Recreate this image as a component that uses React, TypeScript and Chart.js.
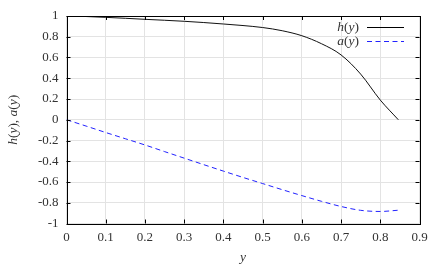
import React, { useEffect, useRef } from "react";
import { Chart, registerables } from "chart.js";

Chart.register(...registerables);

const hX = [0, 0.05, 0.1, 0.15, 0.2, 0.25, 0.3, 0.35, 0.4, 0.45, 0.5, 0.55, 0.6, 0.65, 0.7, 0.75, 0.8, 0.846];
const hY = [1.0, 0.995, 0.987, 0.978, 0.968, 0.959, 0.949, 0.937, 0.923, 0.908, 0.889, 0.858, 0.81, 0.733, 0.625, 0.44, 0.19, 0.0];
const aX = [0, 0.05, 0.1, 0.15, 0.2, 0.25, 0.3, 0.35, 0.4, 0.45, 0.5, 0.55, 0.6, 0.65, 0.7, 0.75, 0.8, 0.846];
const aY = [0, -0.061, -0.123, -0.183, -0.243, -0.307, -0.37, -0.433, -0.495, -0.556, -0.615, -0.674, -0.731, -0.786, -0.836, -0.873, -0.884, -0.872];
const xTicks = [0, 0.1, 0.2, 0.3, 0.4, 0.5, 0.6, 0.7, 0.8, 0.9];
const xTickLabels = ["0", "0.1", "0.2", "0.3", "0.4", "0.5", "0.6", "0.7", "0.8", "0.9"];
const yTicks = [-1, -0.8, -0.6, -0.4, -0.2, 0, 0.2, 0.4, 0.6, 0.8, 1];
const yTickLabels = ["-1", "-0.8", "-0.6", "-0.4", "-0.2", "0", "0.2", "0.4", "0.6", "0.8", "1"];

const SERIF = "'Liberation Serif', 'Times New Roman', serif";

type Seg = { t: string; it: boolean };
const hLabel: Seg[] = [{ t: "h", it: true }, { t: "(", it: false }, { t: "y", it: true }, { t: ")", it: false }];
const aLabel: Seg[] = [{ t: "a", it: true }, { t: "(", it: false }, { t: "y", it: true }, { t: ")", it: false }];
const yTitle: Seg[] = [...hLabel, { t: ", ", it: false }, ...aLabel];
const xTitle: Seg[] = [{ t: "y", it: true }];

function segWidth(ctx: CanvasRenderingContext2D, segs: Seg[], size: number) {
  let w = 0;
  for (const s of segs) {
    ctx.font = `${s.it ? "italic " : ""}${size}px ${SERIF}`;
    w += ctx.measureText(s.t).width;
  }
  return w;
}
function drawSegs(ctx: CanvasRenderingContext2D, segs: Seg[], x: number, y: number, size: number) {
  let cx = x;
  for (const s of segs) {
    ctx.font = `${s.it ? "italic " : ""}${size}px ${SERIF}`;
    ctx.fillText(s.t, cx, y);
    cx += ctx.measureText(s.t).width;
  }
}

const decor = {
  id: "decor",
  afterDatasetsDraw(chart: any) {
    const ctx: CanvasRenderingContext2D = chart.ctx;
    const { left, right, top, bottom } = chart.chartArea;
    const xs = chart.scales.x;
    const ys = chart.scales.y;
    ctx.save();
    ctx.strokeStyle = "#000";
    ctx.lineWidth = 1;
    ctx.setLineDash([]);
    ctx.beginPath();
    const tl = 4;
    for (const v of xTicks) {
      const px = Math.round(xs.getPixelForValue(v)) + 0.5;
      ctx.moveTo(px, bottom);
      ctx.lineTo(px, bottom - tl);
      ctx.moveTo(px, top);
      ctx.lineTo(px, top + tl);
    }
    for (const v of yTicks) {
      const py = Math.round(ys.getPixelForValue(v)) + 0.5;
      ctx.moveTo(left, py);
      ctx.lineTo(left + tl, py);
      ctx.moveTo(right, py);
      ctx.lineTo(right - tl, py);
    }
    ctx.stroke();
    ctx.strokeRect(Math.round(left) + 0.5, Math.round(top) + 0.5, Math.round(right - left), Math.round(bottom - top));

    // legend
    ctx.fillStyle = "#333";
    ctx.textBaseline = "middle";
    const rows = [
      { segs: hLabel, y: top + 11, color: "#000", dash: [] as number[] },
      { segs: aLabel, y: top + 25, color: "#2222ff", dash: [5, 3.5] },
    ];
    for (const r of rows) {
      const w = segWidth(ctx, r.segs, 13.5);
      drawSegs(ctx, r.segs, 359 - w, r.y, 13.5);
      ctx.beginPath();
      ctx.strokeStyle = r.color;
      ctx.setLineDash(r.dash);
      ctx.moveTo(367, Math.round(r.y) + 0.5);
      ctx.lineTo(404, Math.round(r.y) + 0.5);
      ctx.stroke();
    }
    ctx.setLineDash([]);

    // axis titles
    ctx.fillStyle = "#333";
    const xw = segWidth(ctx, xTitle, 13.5);
    drawSegs(ctx, xTitle, (left + right) / 2 - xw / 2, 257, 13.5);
    ctx.save();
    ctx.translate(13, (top + bottom) / 2);
    ctx.rotate(-Math.PI / 2);
    const yw = segWidth(ctx, yTitle, 13.5);
    drawSegs(ctx, yTitle, -yw / 2, 0, 13.5);
    ctx.restore();
    ctx.restore();
  },
};

export default function App() {
  const ref = useRef<HTMLCanvasElement>(null);
  useEffect(() => {
    document.body.style.margin = "0";
    const chart = new Chart(ref.current!, {
      type: "line",
      data: {
        datasets: [
          {
            label: "h(y)",
            data: hX.map((x, i) => ({ x, y: hY[i] })),
            borderColor: "#111",
            borderWidth: 1,
            pointRadius: 0,
            cubicInterpolationMode: "monotone",
          },
          {
            label: "a(y)",
            data: aX.map((x, i) => ({ x, y: aY[i] })),
            borderColor: "#2222ff",
            borderWidth: 1,
            borderDash: [5, 3.5],
            pointRadius: 0,
            cubicInterpolationMode: "monotone",
          },
        ],
      },
      plugins: [decor],
      options: {
        animation: false,
        responsive: false,
        layout: { padding: { left: 0, top: 16, right: 25.5, bottom: 0 } },
        plugins: { legend: { display: false }, tooltip: { enabled: false } },
        scales: {
          x: {
            type: "linear",
            min: 0,
            max: 0.9,
            afterBuildTicks: (s: any) => {
              s.ticks = xTicks.map((v) => ({ value: v }));
            },
            afterFit: (s: any) => {
              s.height = 43.5;
            },
            ticks: {
              callback: (v: any) => xTickLabels[xTicks.findIndex((t) => Math.abs(t - v) < 1e-9)] ?? "",
              font: { family: SERIF, size: 13 },
              color: "#333",
              padding: 6,
              maxRotation: 0,
              autoSkip: false,
            },
            grid: { color: "#e3e3e3", drawTicks: false },
            border: { display: false },
          },
          y: {
            type: "linear",
            min: -1,
            max: 1,
            afterBuildTicks: (s: any) => {
              s.ticks = yTicks.map((v) => ({ value: v }));
            },
            afterFit: (s: any) => {
              s.width = 66.5;
            },
            ticks: {
              callback: (v: any) => yTickLabels[yTicks.findIndex((t) => Math.abs(t - v) < 1e-9)] ?? "",
              font: { family: SERIF, size: 13 },
              color: "#333",
              padding: 8,
              autoSkip: false,
            },
            grid: { color: "#e3e3e3", drawTicks: false },
            border: { display: false },
          },
        },
      },
    } as any);
    return () => chart.destroy();
  }, []);
  return (
    <div style={{ width: 445, height: 267 }}>
      <canvas ref={ref} width={445} height={267} style={{ display: "block" }} />
    </div>
  );
}
